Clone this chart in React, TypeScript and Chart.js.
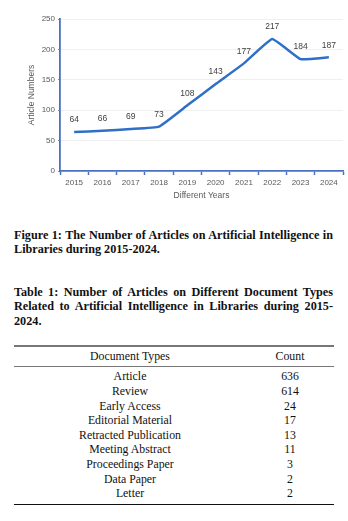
import React, { useEffect, useRef } from "react";
import { Chart, registerables } from "chart.js";

Chart.register(...registerables);

const years = ["2015", "2016", "2017", "2018", "2019", "2020", "2021", "2022", "2023", "2024"];
const articleCounts = [64, 66, 69, 73, 108, 143, 177, 217, 184, 187];
const yTicks = [0, 50, 100, 150, 200, 250];

const docTypes = [
  "Article",
  "Review",
  "Early Access",
  "Editorial Material",
  "Retracted Publication",
  "Meeting Abstract",
  "Proceedings Paper",
  "Data Paper",
  "Letter",
];
const docCounts = [636, 614, 24, 17, 13, 11, 3, 2, 2];

const BLUE_AXIS = "#4a72c0";
const LINE_BLUE = "#2f6fc6";
const TICK_GREY = "#595959";
const SANS = "'Liberation Sans', Arial, sans-serif";
const SERIF = "'Liberation Serif', 'Times New Roman', serif";

const labelPlugin = {
  id: "pointLabels",
  afterDatasetsDraw(chart: any) {
    const ctx = chart.ctx;
    const meta = chart.getDatasetMeta(0);
    const data = chart.data.datasets[0].data as number[];
    ctx.save();
    ctx.font = `8.5px ${SANS}`;
    ctx.fillStyle = "#404040";
    ctx.textAlign = "center";
    ctx.textBaseline = "middle";
    meta.data.forEach((pt: any, i: number) => {
      ctx.fillText(String(data[i]), pt.x, pt.y - 12);
    });
    ctx.restore();
  },
};

function LineChart() {
  const ref = useRef<HTMLCanvasElement | null>(null);
  useEffect(() => {
    if (!ref.current) return;
    const chart = new Chart(ref.current, {
      type: "line",
      data: {
        labels: years,
        datasets: [
          {
            data: articleCounts,
            borderColor: LINE_BLUE,
            borderWidth: 2.5,
            pointRadius: 0,
            tension: 0.1,
            fill: false,
          },
        ],
      },
      options: {
        responsive: false,
        animation: false,
        layout: { padding: { top: 19, right: 5, bottom: 0, left: 0 } },
        plugins: { legend: { display: false }, tooltip: { enabled: false } },
        scales: {
          x: {
            offset: true,
            grid: {
              offset: true,
              drawOnChartArea: false,
              tickLength: 4,
              tickColor: BLUE_AXIS,
              tickWidth: 1.5,
            },
            border: { color: BLUE_AXIS, width: 1.8 },
            ticks: { color: TICK_GREY, font: { family: SANS, size: 8 }, padding: 3, maxRotation: 0 },
            title: {
              display: true,
              text: "Different Years",
              color: TICK_GREY,
              font: { family: SANS, size: 8.5 },
              padding: { top: 0, bottom: 4 },
            },
            afterFit(scale: any) {
              scale.height = 34;
            },
          },
          y: {
            min: 0,
            max: 250,
            afterBuildTicks(scale: any) {
              scale.ticks = yTicks.map((v) => ({ value: v }));
            },
            grid: {
              color: (c: any) => (c.tick && c.tick.value === 0 ? "rgba(0,0,0,0)" : "#ececec"),
              tickColor: BLUE_AXIS,
              tickLength: 2,
              lineWidth: 0.8,
            },
            border: { color: BLUE_AXIS, width: 1.8 },
            ticks: { color: TICK_GREY, font: { family: SANS, size: 8 }, padding: 3 },
            title: {
              display: true,
              text: "Article Numbers",
              color: TICK_GREY,
              font: { family: SANS, size: 8.5 },
              padding: { top: 27, bottom: 0 },
            },
            afterFit(scale: any) {
              scale.width = 60;
            },
          },
        },
      },
      plugins: [labelPlugin],
    });
    return () => chart.destroy();
  }, []);
  return <canvas ref={ref} width={348} height={205} style={{ position: "absolute", left: 0, top: 0, width: 348, height: 205 }} />;
}

const lineStyle = (last: boolean): React.CSSProperties => ({
  textAlign: "justify",
  textAlignLast: last ? "left" : "justify",
  whiteSpace: "nowrap",
  height: 14.3,
  lineHeight: "14.3px",
});

export default function App() {
  useEffect(() => {
    document.body.style.margin = "0";
  }, []);
  const capStyle: React.CSSProperties = {
    position: "absolute",
    left: 14,
    width: 319,
    fontFamily: SERIF,
    fontWeight: "bold",
    fontSize: 12.2,
    color: "#111",
  };
  const rowH = 14.6;
  const cell = (top: number, left: number, width: number): React.CSSProperties => ({
    position: "absolute",
    left,
    top,
    width,
    height: rowH,
    lineHeight: `${rowH}px`,
    textAlign: "center",
    fontFamily: SERIF,
    fontSize: 11.8,
    color: "#111",
    whiteSpace: "nowrap",
  });
  return (
    <div style={{ position: "absolute", left: 0, top: 0, width: 348, height: 521, background: "#fff", overflow: "hidden" }}>
      <LineChart />
      <div style={{ ...capStyle, top: 228 }}>
        <div style={lineStyle(false)}>Figure 1: The Number of Articles on Artificial Intelligence in</div>
        <div style={lineStyle(true)}>Libraries during 2015-2024.</div>
      </div>
      <div style={{ ...capStyle, top: 285 }}>
        <div style={lineStyle(false)}>Table 1: Number of Articles on Different Document Types</div>
        <div style={lineStyle(false)}>Related to Artificial Intelligence in Libraries during 2015-</div>
        <div style={lineStyle(true)}>2024.</div>
      </div>
      <div style={{ position: "absolute", left: 14, top: 345, width: 320, height: 1.5, background: "#777" }} />
      <div style={{ position: "absolute", left: 14, top: 366, width: 320, height: 1, background: "#777" }} />
      <div style={{ position: "absolute", left: 14, top: 503.5, width: 320, height: 1, background: "#111" }} />
      <div style={cell(356 - rowH / 2, 14, 232)}>Document Types</div>
      <div style={cell(356 - rowH / 2, 250, 80)}>Count</div>
      {docTypes.map((t, i) => (
        <React.Fragment key={t}>
          <div style={cell(376.7 + i * rowH - rowH / 2, 14, 232)}>{t}</div>
          <div style={cell(376.7 + i * rowH - rowH / 2, 250, 80)}>{docCounts[i]}</div>
        </React.Fragment>
      ))}
    </div>
  );
}
